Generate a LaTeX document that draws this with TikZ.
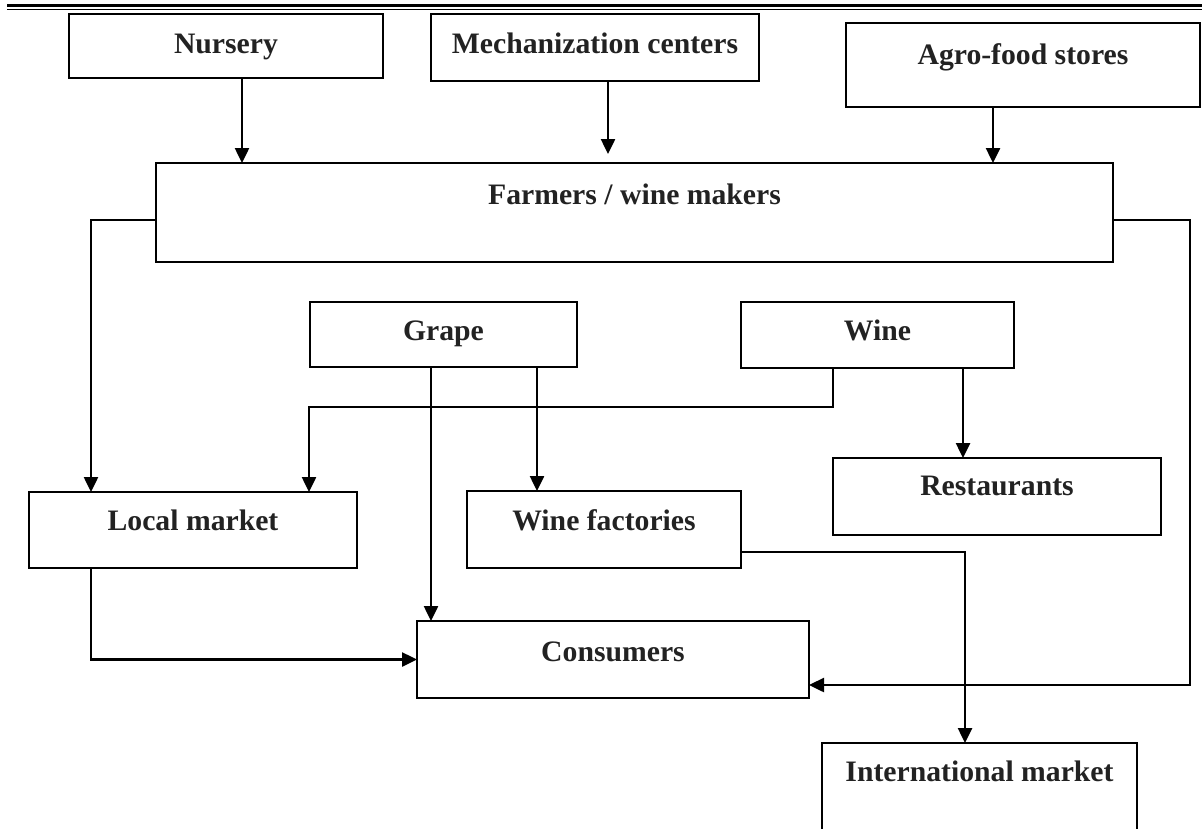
\documentclass[tikz,border=0pt]{standalone}
\usepackage{fontspec}
\setmainfont{Liberation Serif}
\usetikzlibrary{arrows.meta}
\definecolor{txt}{HTML}{222222}
\begin{document}
\begin{tikzpicture}[x=1pt,y=-1pt,
  box/.style={draw=black, line width=2pt, inner sep=0pt, outer sep=0pt, anchor=north west, fill=none},
  lbl/.style={anchor=base, inner sep=0pt, text=txt, font=\fontsize{29.7pt}{34pt}\selectfont\bfseries},
  arr/.style={draw=black, line width=2.5pt, -{Triangle[length=15pt,width=14pt]}}]
\useasboundingbox (0,0) rectangle (1202,828);
\clip (0,0) rectangle (1202,828);
% top rule
\draw[line width=2.5pt] (7,5.5) -- (1202,5.5);
\draw[line width=1pt] (7,9.5) -- (1202,9.5);
% boxes
\node[box, minimum width=314pt, minimum height=64pt, label={[lbl, yshift=-39pt]north:Nursery}] (nursery) at (69,14) {};
\node[box, minimum width=328pt, minimum height=67pt, label={[lbl, yshift=-39pt]north:Mechanization centers}] (mech) at (431,14) {};
\node[box, minimum width=354pt, minimum height=84pt, label={[lbl, yshift=-41pt]north:Agro-food stores}] (agro) at (846,23) {};
\node[box, minimum width=957pt, minimum height=99pt, label={[lbl, yshift=-41pt]north:Farmers / wine makers}] (farmers) at (156,163) {};
\node[box, minimum width=267pt, minimum height=65pt, label={[lbl, yshift=-38pt]north:Grape}] (grape) at (310,302) {};
\node[box, minimum width=273pt, minimum height=66pt, label={[lbl, yshift=-38pt]north:Wine}] (wine) at (741,302) {};
\node[box, minimum width=328pt, minimum height=76pt, label={[lbl, yshift=-38pt]north:Local market}] (local) at (29,492) {};
\node[box, minimum width=274pt, minimum height=77pt, label={[lbl, yshift=-39pt]north:Wine factories}] (winefac) at (467,491) {};
\node[box, minimum width=328pt, minimum height=77pt, label={[lbl, yshift=-37pt]north:Restaurants}] (rest) at (833,458) {};
\node[box, minimum width=392pt, minimum height=77pt, label={[lbl, yshift=-40pt]north:Consumers}] (consumers) at (417,621) {};
\node[box, minimum width=315pt, minimum height=110pt, label={[lbl, yshift=-38pt]north:International market}] (intl) at (822,743) {};
% connectors
\draw[arr] ([xshift=16pt]nursery.south) -- ([xshift=16pt]nursery.south |- farmers.north);
\draw[arr, shorten >=9pt] ([xshift=13pt]mech.south) -- ([xshift=13pt]mech.south |- farmers.north);
\draw[arr] ([xshift=-30pt]agro.south) -- ([xshift=-30pt]agro.south |- farmers.north);
\draw[arr] ([yshift=-7.5pt]farmers.west) -| ([xshift=-102pt]local.north);
\draw[arr] ([yshift=-7.5pt]farmers.east) -- ++(77,0) |- ([yshift=-25.5pt]consumers.east);
\draw[arr] ([xshift=-44.5pt]wine.south) -- ++(0,39) -| ([xshift=116pt]local.north);
\draw[arr] ([xshift=-12.5pt]grape.south) -- ([xshift=-12.5pt]grape.south |- consumers.north);
\draw[arr] ([xshift=93.5pt]grape.south) -- ([xshift=93.5pt]grape.south |- winefac.north);
\draw[arr] ([xshift=85.5pt]wine.south) -- ([xshift=85.5pt]wine.south |- rest.north);
\draw[arr] ([xshift=-102pt]local.south) |- (consumers.west);
\draw[arr] ([yshift=-22.5pt]winefac.east) -| ([xshift=-14.5pt]intl.north);
\end{tikzpicture}
\end{document}
